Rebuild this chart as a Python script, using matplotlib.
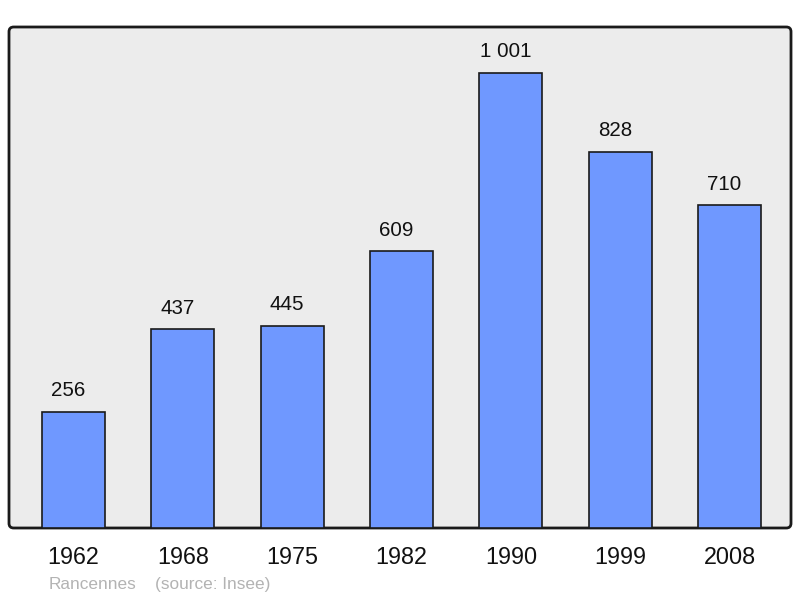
import matplotlib
matplotlib.use("Agg")
import matplotlib.pyplot as plt
from matplotlib.patches import FancyBboxPatch

years = ["1962", "1968", "1975", "1982", "1990", "1999", "2008"]
population = [256, 437, 445, 609, 1001, 828, 710]
value_labels = ["256", "437", "445", "609", "1 001", "828", "710"]

plt.rcParams['font.family'] = ['Liberation Sans', 'DejaVu Sans']

fig = plt.figure(figsize=(8, 5.98), dpi=100)
ax = fig.add_axes([9/800, 70/598, 782/800, 501/598])
ax.set_facecolor('none')
for s in ax.spines.values():
    s.set_visible(False)

bg = FancyBboxPatch((0, 0), 1, 1, boxstyle="round,pad=0,rounding_size=0.006",
                    transform=ax.transAxes, facecolor='#ececec', edgecolor='#1a1a1a',
                    linewidth=2, zorder=0, clip_on=False, mutation_aspect=782/501)
ax.add_patch(bg)

x = list(range(len(years)))
ax.bar(x, population, width=0.576, color='#6f98ff', edgecolor='#1a1a1a', linewidth=1.2, zorder=2)
for xi, v, lab in zip(x, population, value_labels):
    ax.annotate(lab, (xi, v), xytext=(-3.6, 15.2), textcoords='offset points',
                ha='center', va='center', fontsize=14.8, color='#111111')

ax.set_xlim(-0.59, 6.5625)
ax.set_ylim(0, 1102)
ax.set_yticks([])
ax.set_xticks(x)
ax.set_xticklabels(years, fontsize=16.8, color='#111111')
ax.tick_params(axis='x', length=0, pad=13)

fig.text(49/800, 1 - 589/598, "Rancennes", fontsize=12.4, color='#b3b3b3', va='baseline', ha='left')
fig.text(155/800, 1 - 589/598, "(source: Insee)", fontsize=12.4, color='#b3b3b3', va='baseline', ha='left')

fig.savefig("out.png", dpi=100, facecolor='white')
